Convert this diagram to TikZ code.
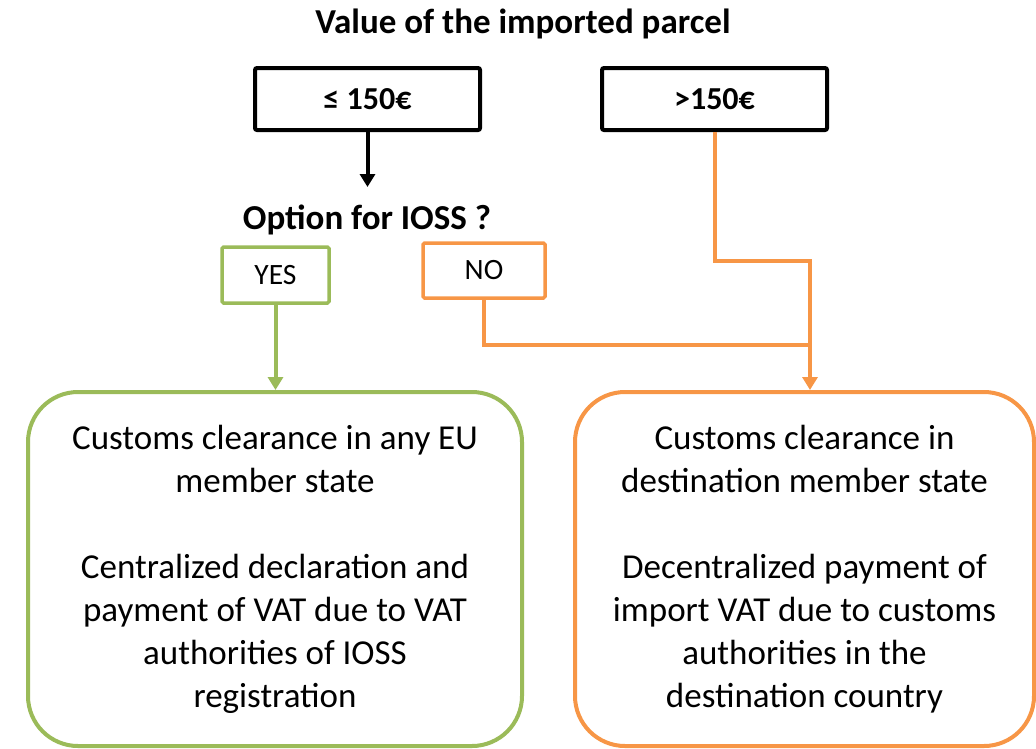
\documentclass[tikz,border=0pt]{standalone}
\usepackage{fontspec}
\setmainfont{Carlito}
\usetikzlibrary{arrows.meta}
\definecolor{vgreen}{HTML}{9BBB59}
\definecolor{vorange}{HTML}{F79646}
\begin{document}
\begin{tikzpicture}[x=1pt,y=-1pt,
  blackbox/.style={draw=black,line width=4pt,rounded corners=2pt,minimum width=225pt,minimum height=62pt,inner sep=0pt,font=\fontsize{32}{36}\selectfont\bfseries},
  smallbox/.style={draw=#1,line width=3.5pt,rounded corners=1.5pt,inner sep=0pt,font=\fontsize{29.5}{34}\selectfont},
  bigbox/.style={draw=#1,line width=4pt,rounded corners=50pt,inner sep=0pt,align=center,font=\fontsize{35}{43}\selectfont},
  conn/.style={line width=4pt,draw=#1},
  tip/.style={-{Triangle[width=15pt,length=13pt]}}
]
\useasboundingbox (0,0) rectangle (1036,748);
\node[font=\fontsize{35}{40}\selectfont\bfseries] (title) at (523,24) {Value of the imported parcel};
\node[blackbox] (le) at (367.5,99) {≤ 150€};
\node[blackbox] (gt) at (714.5,99) {>150€};
\node[font=\fontsize{35}{40}\selectfont\bfseries] (opt) at (367,220) {Option for IOSS ?};
\node[smallbox=vgreen,minimum width=107pt,minimum height=56pt] (yes) at (275.5,275) {YES};
\node[smallbox=vorange,minimum width=122pt,minimum height=55pt] (no) at (484,270.5) {NO};
\node[bigbox=vgreen,minimum width=494pt,minimum height=354pt] (gbox) at (275,569) {Customs clearance in any EU\\member state\\[43pt]Centralized declaration and\\payment of VAT due to VAT\\authorities of IOSS\\registration};
\node[bigbox=vorange,minimum width=459pt,minimum height=354pt] (obox) at (804.5,569) {Customs clearance in\\destination member state\\[43pt]Decentralized payment of\\import VAT due to customs\\authorities in the\\destination country};
\coordinate (q) at (367.5,187);
\coordinate (m) at (810,261);
\coordinate (j) at (810,345);
\draw[conn=black,tip] (le.south) -- (q);
\draw[conn=vgreen,tip] (yes.south) -- (yes.south |- gbox.north);
\draw[conn=vorange] (no.south) |- (j);
\draw[conn=vorange,tip] (gt.south) |- (m) -- (m |- obox.north);
\end{tikzpicture}
\end{document}
